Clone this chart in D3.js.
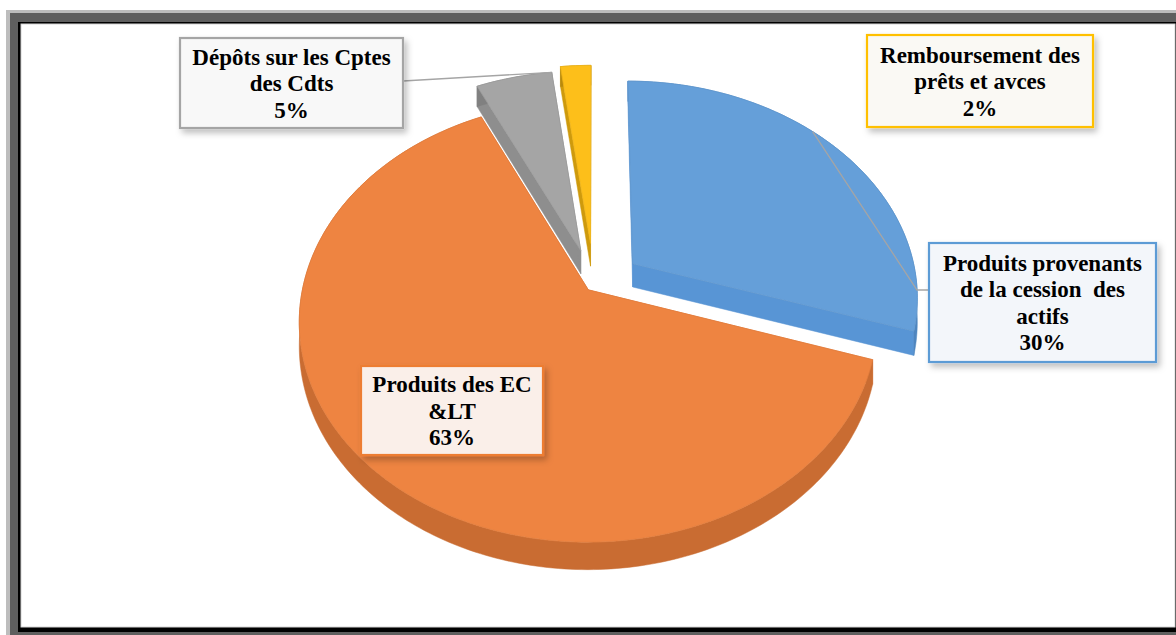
<!DOCTYPE html>
<html>
<head>
<meta charset="utf-8">
<script src="https://cdn.jsdelivr.net/npm/d3@7"></script>
<style>
  body { margin: 0; background: #fff; }
  svg { display: block; }
</style>
</head>
<body>
<svg id="chart" width="1176" height="635"></svg>
<script>
// data
var categories = [
  "Produits provenants de la cession  des actifs",
  "Produits des EC &LT",
  "Dépôts sur les Cptes des Cdts",
  "Remboursement des prêts et avces"
];
var values = [30, 63, 5, 2];
var labelLines = [
  ["Produits provenants", "de la cession  des", "actifs"],
  ["Produits des EC", "&LT"],
  ["Dépôts sur les Cptes", "des Cdts"],
  ["Remboursement des", "prêts et avces"]
];

// styles
var topColors  = ["#659FD9", "#EE8441", "#A5A5A5", "#FDBF1A"];
var sideColors = ["#4F86BF", "#C96C32", "#808080", "#B98A0C"];
var boxFills   = ["#F3F6FA", "#FAEFE9", "#F8F8F8", "#FAF9F4"];
var boxStrokes = ["#5B9BD5", "#ED7D31", "#A5A5A5", "#FFC000"];
var explode    = [0.17, 0.03, 0.17, 0.2];
var labelBoxes = [
  {x: 929, y: 243, w: 227, h: 119},
  {x: 361, y: 366, w: 182, h: 89},
  {x: 180, y: 38, w: 223, h: 90},
  {x: 867, y: 35, w: 226, h: 92}
];

var svg = d3.select("#chart"),
    width = +svg.attr("width"),
    height = +svg.attr("height");

var defs = svg.append("defs");
var shadow = defs.append("filter").attr("id", "shadow")
    .attr("x", "-10%").attr("y", "-10%").attr("width", "130%").attr("height", "140%");
shadow.append("feDropShadow")
    .attr("dx", 3).attr("dy", 4).attr("stdDeviation", 3)
    .attr("flood-color", "#000").attr("flood-opacity", 0.25);

// frame
svg.append("rect").attr("x", 6).attr("y", 10).attr("width", width - 6).attr("height", height - 10)
    .attr("fill", "#BDBDBD");
svg.append("rect").attr("x", 10).attr("y", 13).attr("width", width - 10).attr("height", height - 13)
    .attr("fill", "#5F5F5F");
svg.append("rect").attr("x", 18).attr("y", 22).attr("width", width - 18).attr("height", 610)
    .attr("fill", "#000");
svg.append("rect").attr("x", 21).attr("y", 24).attr("width", 1154).attr("height", 603)
    .attr("fill", "#fff").attr("stroke", "#D4D4D4").attr("stroke-width", 1);

// perspective projection of a tilted disc
var cx = 594, cy = 285, S = 285,
    tiltSin = 0.753, tiltCos = 0.658, persp = 0.1435, thick = 0.125;

function proj(X, Z, down) {
  var k = 1 / (1 + persp * Z);
  return [cx + S * X * k, cy + S * (-tiltSin * Z + tiltCos * down) * k];
}

var pie = d3.pie().sort(null).value(function(d) { return d; });
var arcs = pie(values);

var slices = arcs.map(function(d, i) {
  var mid = (d.startAngle + d.endAngle) / 2;
  var ox = explode[i] * Math.sin(mid), oz = explode[i] * Math.cos(mid);
  var n = Math.max(2, Math.ceil((d.endAngle - d.startAngle) / (Math.PI / 180)));
  var angles = d3.range(n + 1).map(function(j) {
    return d.startAngle + (d.endAngle - d.startAngle) * j / n;
  });
  function rim(t, down) { return proj(ox + Math.sin(t), oz + Math.cos(t), down); }
  return {
    i: i, d: d, ox: ox, oz: oz, mid: mid, angles: angles, rim: rim,
    apex: function(down) { return proj(ox, oz, down); },
    depth: oz + 0.5 * Math.cos(mid)
  };
});

var line = d3.line();
function poly(pts) { return line(pts) + "Z"; }

var pieG = svg.append("g").attr("class", "pie");

slices.slice().sort(function(a, b) { return b.depth - a.depth; }).forEach(function(s) {
  var g = pieG.append("g");
  var topRim = s.angles.map(function(t) { return s.rim(t, 0); });
  var botRim = s.angles.map(function(t) { return s.rim(t, thick); });
  var a0 = s.d.startAngle, a1 = s.d.endAngle;

  // radial walls
  [a0, a1].forEach(function(t) {
    g.append("path")
        .attr("d", poly([s.apex(0), s.rim(t, 0), s.rim(t, thick), s.apex(thick)]))
        .attr("fill", d3.color(sideColors[s.i]).brighter(0.3))
        .attr("stroke", d3.color(sideColors[s.i]).brighter(0.3)).attr("stroke-width", 0.5);
  });
  // outer wall
  g.append("path")
      .attr("d", poly(topRim.concat(botRim.slice().reverse())))
      .attr("fill", sideColors[s.i])
      .attr("stroke", sideColors[s.i]).attr("stroke-width", 0.5);
  // top face
  g.append("path")
      .attr("d", poly([s.apex(0)].concat(topRim)))
      .attr("fill", topColors[s.i])
      .attr("stroke", d3.color(topColors[s.i]).darker(0.15)).attr("stroke-width", 0.8);
});

// leader lines
var gray = slices[2], blue = slices[0];
var gp = gray.rim(gray.d.endAngle, 0);
var gb = labelBoxes[2];
svg.append("polyline")
    .attr("points", [[gb.x + gb.w, gb.y + 43], gp].join(" "))
    .attr("fill", "none").attr("stroke", "#A5A5A5").attr("stroke-width", 1.3);

var bp = blue.rim(0.8, 0);
var bb = labelBoxes[0];
svg.append("polyline")
    .attr("points", [bp, [bb.x - 12, bb.y + 47], [bb.x, bb.y + 47]].join(" "))
    .attr("fill", "none").attr("stroke", "#A5A5A5").attr("stroke-width", 1.3);

// label boxes
var lineH = 26.5;
var labels = svg.append("g").attr("class", "labels")
  .selectAll("g")
  .data(categories)
  .enter().append("g");

labels.append("rect")
    .attr("x", function(d, i) { return labelBoxes[i].x; })
    .attr("y", function(d, i) { return labelBoxes[i].y; })
    .attr("width", function(d, i) { return labelBoxes[i].w; })
    .attr("height", function(d, i) { return labelBoxes[i].h; })
    .attr("fill", function(d, i) { return boxFills[i]; })
    .attr("stroke", function(d, i) { return boxStrokes[i]; })
    .attr("stroke-width", 2.2)
    .attr("filter", "url(#shadow)");

labels.each(function(d, i) {
  var b = labelBoxes[i];
  var lines = labelLines[i].concat([values[i] + "%"]);
  var y0 = b.y + (b.h - (lines.length - 1) * lineH) / 2 + 8;
  d3.select(this).selectAll("text")
    .data(lines)
    .enter().append("text")
      .attr("x", b.x + b.w / 2)
      .attr("y", function(t, j) { return y0 + j * lineH; })
      .attr("text-anchor", "middle")
      .style("font-family", "'Liberation Serif', 'Times New Roman', serif")
      .style("font-weight", "bold")
      .style("font-size", "23px")
      .style("white-space", "pre")
      .attr("fill", "#000")
      .text(function(t) { return t; });
});
</script>
</body>
</html>
